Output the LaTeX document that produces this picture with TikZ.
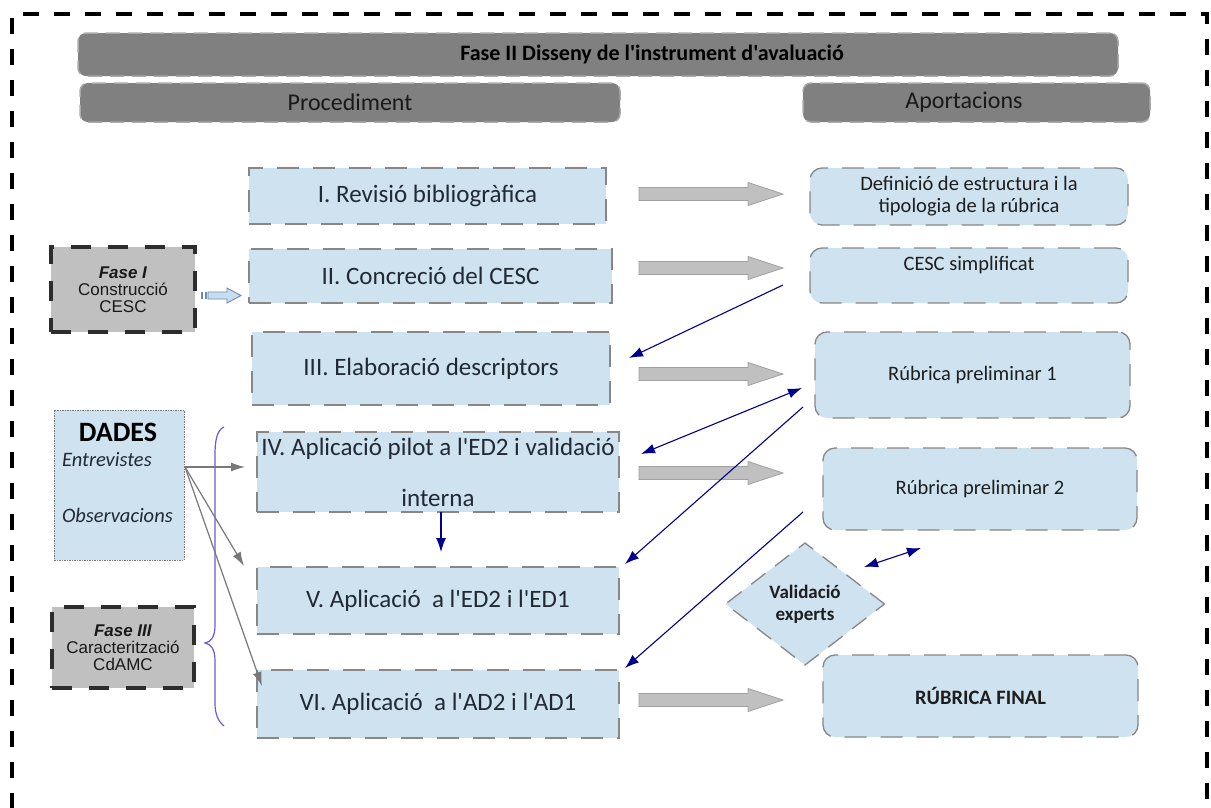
\documentclass[tikz,border=0pt]{standalone}
\usepackage{fontspec}
\setmainfont{Carlito}[Ligatures=TeXOff]
\newfontfamily\arialf{Liberation Sans}
\usetikzlibrary{arrows.meta,shapes.geometric,calc}

\definecolor{lblue}{RGB}{206,226,240}
\definecolor{hdrgray}{RGB}{128,128,128}
\definecolor{hdrborder}{RGB}{170,170,170}
\definecolor{bordergray}{RGB}{135,135,135}
\definecolor{ptext}{RGB}{33,42,52}
\definecolor{atext}{RGB}{30,30,30}
\definecolor{arrnavy}{RGB}{0,0,140}
\definecolor{garrowfill}{RGB}{192,192,192}
\definecolor{garrowline}{RGB}{160,160,160}
\definecolor{fasegray}{RGB}{192,192,192}
\definecolor{faseline}{RGB}{45,45,45}
\definecolor{bracecol}{RGB}{105,90,220}
\definecolor{thingray}{RGB}{120,120,120}
\definecolor{smallarrfill}{RGB}{200,222,240}
\definecolor{smallarrline}{RGB}{110,140,175}

\begin{document}
\begin{tikzpicture}[x=1pt,y=-1pt,
  every node/.style={inner sep=0pt, outer sep=0pt},
  frame/.style={draw=black, line width=4pt, dash pattern=on 16pt off 15pt},
  hdr/.style={draw=hdrborder, line width=1.5pt, dash pattern=on 14pt off 8pt,
    fill=hdrgray, rounded corners=8pt},
  hdrtext/.style={text=black!90, font=\fontsize{24}{28}\selectfont},
  pbox/.style={draw=bordergray, line width=1.3pt, dash pattern=on 22pt off 14pt,
    fill=lblue, text=ptext, align=center, font=\fontsize{25}{30}\selectfont},
  abox/.style={draw=bordergray, line width=1.3pt, dash pattern=on 22pt off 14pt,
    fill=lblue, rounded corners=12pt, text=atext, align=center,
    font=\fontsize{20.5}{22}\selectfont},
  fasebox/.style={draw=faseline, line width=4.5pt, dash pattern=on 20pt off 17pt,
    fill=fasegray, align=center, text=black!90,
    font=\arialf\fontsize{17}{17}\selectfont},
  dadesbox/.style={draw=thingray, line width=0.9pt, dash pattern=on 1.5pt off 1pt,
    fill=lblue},
  navyarrow/.style={draw=arrnavy, line width=1.1pt, -{Latex[length=14pt,width=10pt]}},
  navydouble/.style={draw=arrnavy, line width=1.1pt,
    {Latex[length=14pt,width=10pt]}-{Latex[length=14pt,width=10pt]}},
  grayarrow/.style={draw=thingray, line width=1.2pt, -{Latex[length=14pt,width=9pt]}},
  blockarr/.style={fill=garrowfill, draw=garrowline, line width=0.8pt},
  garrow/.pic={\filldraw[blockarr] (0,-6.5) -- (109,-6.5) -- (109,-11.5) -- (144,0)
      -- (109,11.5) -- (109,6.5) -- (0,6.5) -- cycle;}
]
\useasboundingbox (0,0) rectangle (1211,807);
\fill[white] (0,0) rectangle (1211,807);
\clip (0,0) rectangle (1211,807);

% outer dashed frame
\draw[frame] (12,840) -- (12,14) -- (1207,14) -- (1207,840);

% headers
\node[hdr, minimum width=1040, minimum height=43] (title) at (598,54.5) {};
\node[font=\bfseries\fontsize{22}{24}\selectfont, text=black] (titletext) at (652,55)
  {Fase II Disseny de l'instrument d'avaluació};
\node[hdr, hdrtext, minimum width=540, minimum height=39] (proc) at (350,102.5) {Procediment};
\node[hdr, minimum width=347, minimum height=39] (apor) at (976.5,102.5) {};
\node[hdrtext] (aportext) at (964,102) {Aportacions};

% procedure steps
\node[pbox, minimum width=357, minimum height=56] (p1) at (427.5,196) {I. Revisió bibliogràfica};
\node[pbox, minimum width=363, minimum height=54] (p2) at (430.5,276) {II. Concreció del CESC};
\node[pbox, minimum width=358, minimum height=73] (p3) at (431,368.5) {III. Elaboració descriptors};
\node[pbox, minimum width=362, minimum height=80] (p4) at (438,472)
  {IV. Aplicació pilot a l'ED2 i validació\\[21pt]interna};
\node[pbox, minimum width=362, minimum height=67] (p5) at (438,600.5) {V. Aplicació~ a l'ED2 i l'ED1};
\node[pbox, minimum width=362, minimum height=68] (p6) at (438,704) {VI. Aplicació~ a l'AD2 i l'AD1};

% contributions
\node[abox, minimum width=318, minimum height=57] (a1) at (969,196.5)
  {Definició de estructura i la\\tipologia de la rúbrica};
\node[abox, minimum width=318, minimum height=55] (a2) at (969,275.5) {};
\node[text=atext, font=\fontsize{20.5}{22}\selectfont] (a2text) at (969,265) {CESC simplificat};
\node[abox, minimum width=315, minimum height=86] (a3) at (972.5,375) {Rúbrica preliminar 1};
\node[abox, minimum width=314, minimum height=82] (a4) at (980,489) {Rúbrica preliminar 2};
\node[abox, minimum width=315, minimum height=82] (a5) at (980.5,696) {\bfseries RÚBRICA FINAL};

% expert validation
\node[diamond, draw=bordergray, fill=lblue, line width=1.3pt, dash pattern=on 18pt off 12pt,
  minimum width=159, minimum height=122, align=center, text=atext,
  font=\bfseries\fontsize{19}{22}\selectfont] (val) at (805,604) {Validació\\experts};

% side boxes
\node[fasebox, minimum width=144, minimum height=85] (f1) at (123,289.5)
  {\textbf{\textit{Fase I}}\\Construcció\\CESC};
\node[fasebox, minimum width=142, minimum height=81] (f3) at (123,647.5)
  {\textbf{\textit{Fase III}}\\Caracterització\\CdAMC};
\node[dadesbox, minimum width=130, minimum height=150] (dades) at (119,485) {};
\node[font=\bfseries\fontsize{28}{30}\selectfont, text=black] (dadest) at (118,432) {DADES};
\node[anchor=west, font=\itshape\fontsize{20.5}{24}\selectfont, text=ptext] (ent) at (62,460) {Entrevistes};
\node[anchor=west, font=\itshape\fontsize{20.5}{24}\selectfont, text=ptext] (obs) at (62,515) {Observacions};

% Fase I feeds step II
\fill[smallarrline] (201,292) rectangle (203,299);
\fill[smallarrline] (204.5,292) rectangle (206.5,299);
\filldraw[fill=smallarrfill, draw=smallarrline, line width=0.9pt]
  (208,292) -- (227,292) -- (227,288) -- (241,295.5) -- (227,303) -- (227,299) -- (208,299) -- cycle;

% block arrows from steps to contributions
\pic at (639,194) {garrow};
\pic at (639,268) {garrow};
\pic at (639,374) {garrow};
\pic at (639,473) {garrow};
\pic at (639,700) {garrow};

% brace grouping the data-driven steps
\draw[bracecol, line width=1.2pt]
  (224,427) .. controls (217,430) and (215,440) .. (215,455) -- (215,625)
  .. controls (215,637) and (211,642) .. (205,643)
  .. controls (211,644) and (215,649) .. (215,661) -- (215,703)
  .. controls (215,714) and (218,721) .. (224,726);

% data arrows
\coordinate (dout) at (185,467);
\coordinate (d1) at (245,467);
\coordinate (d2) at (244,566);
\coordinate (d3) at (262,686);
\draw[grayarrow] (dout) -- (d1);
\draw[grayarrow] (dout) -- (d2);
\draw[grayarrow] (dout) -- (d3);

% feedback arrows
\coordinate (b1s) at (783,285);  \coordinate (b1e) at (629,358);
\coordinate (b2s) at (802,388);  \coordinate (b2e) at (641,454);
\coordinate (b3s) at (803,407);  \coordinate (b3e) at (625,564);
\coordinate (b4s) at (803,512);  \coordinate (b4e) at (625,668);
\coordinate (b5s) at (864,567);  \coordinate (b5e) at (921,548);
\coordinate (b6s) at (441,512);  \coordinate (b6e) at (441,552);
\draw[navyarrow] (b1s) -- (b1e);
\draw[navydouble] (b2e) -- (b2s);
\draw[navyarrow] (b3s) -- (b3e);
\draw[navyarrow] (b4s) -- (b4e);
\draw[navydouble] (b5s) -- (b5e);
\draw[navyarrow] (b6s) -- (b6e);
\end{tikzpicture}
\end{document}
